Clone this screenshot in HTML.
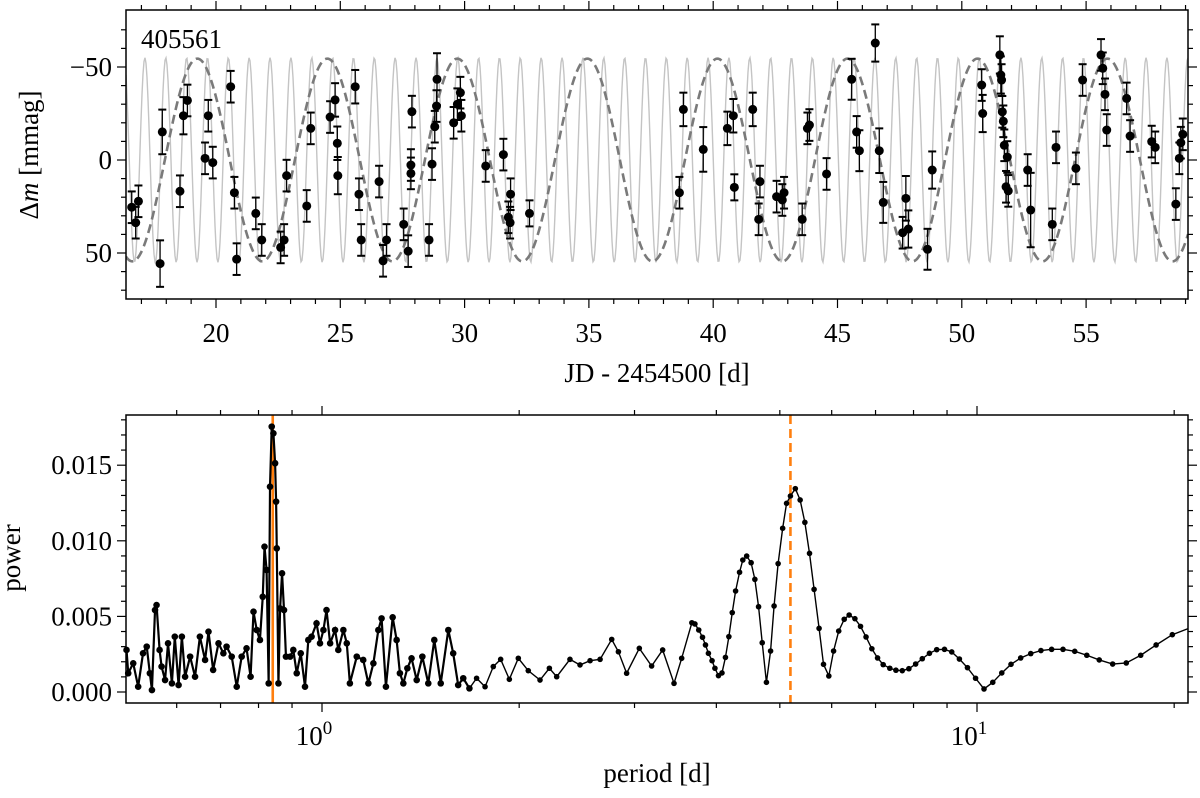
<!DOCTYPE html>
<html><head><meta charset="utf-8">
<style>
html,body{margin:0;padding:0;background:#fff;}
svg{display:block;font-family:"Liberation Serif","DejaVu Serif",serif;}
</style></head>
<body>
<svg id="chart" width="1200" height="798" viewBox="0 0 1200 798" xmlns="http://www.w3.org/2000/svg">
  <rect width="1200" height="798" fill="#fff"/>
  <g id="topPanel"></g>
  <g id="botPanel"></g>
</svg>
<script>
// ---------- Light-curve data ----------
const obsDay = [16.61,16.77,16.88,17.75,17.84,18.55,18.69,18.85,19.56,19.69,19.87,20.59,20.74,20.83,21.6,21.84,22.6,22.74,22.84,23.65,23.81,24.59,24.79,24.88,24.9,25.6,25.75,25.84,26.56,26.72,26.86,27.55,27.73,27.88,27.84,27.84,28.57,28.69,28.8,28.87,28.89,29.56,29.71,29.83,29.87,
30.85,31.56,31.85,31.76,31.83,32.61,38.64,38.8,39.6,40.57,40.81,40.85,41.59,41.88,41.83,42.55,42.78,42.85,43.58,43.79,43.87,44.56,
45.57,45.77,45.88,46.52,46.68,46.84,47.62,47.75,47.85,48.62,48.81,50.8,50.84,51.53,51.57,51.6,51.63,51.67,51.71,51.83,51.78,51.87,52.65,52.77,53.64,53.79,54.59,54.86,55.6,55.67,55.76,55.83,56.63,56.77,57.64,57.78,58.61,58.75,58.81,58.89];
const obsMag = [25.4,33.7,22.2,55.7,-15.1,16.8,-23.8,-32,-0.9,-23.8,1.4,-39.4,17.6,53.3,28.7,43,47,43,8.4,24.7,-17,-23.1,-32.3,-9,8.4,-39.4,18.4,43,11.6,54.2,43,34.6,49,-26,2.7,7.2,43,2.2,-17.9,-29,-43.4,-20,-30,-36.2,-23.8,
3.2,-2.9,18.4,30.8,33.7,28.7,17.6,-27.2,-5.7,-17,-23.8,14.7,-27.2,11.6,31.9,19.7,21.5,17.6,31.9,-17,-18.8,7.5,
-43.4,-15.1,-5,-62.9,-5,22.8,39.1,20.6,37.1,48,5.4,-40.3,-25,-56.5,-45.7,-43,-25.9,-20.8,-7.9,-1.6,14.4,16.6,5.4,26.9,34.6,-6.8,4.5,-43,-56.5,-49.3,-35.3,-16.1,-33.1,-12.9,-9.9,-6.8,23.7,-0.9,-9.3,-13.8];
const obsErr = [8.5,8.5,8.5,12.5,12,8.5,10,8.5,8.5,8.5,8.5,8.5,8.5,8.5,8.5,8.5,8.5,8.5,8.5,8.5,8.5,8.5,9,9,10,9,8.5,8.5,8.5,8.5,8.5,8.5,8.5,8.5,8.5,8.5,8.5,8.5,8.5,8.5,14,8.5,8.5,8.5,8.5,
8.5,8.5,8.5,8.5,8.5,7,8.5,9,12,9,9,7,9,8.5,8.5,8.5,8.5,8.5,8.5,8.5,8.5,8.5,
11,8.5,11,10,12,11,8.5,12,10,11,10,8.5,10,10,10,8.5,8.5,8.5,8.5,8.5,8.5,8.5,8.5,20,8.5,8.5,8.5,8.5,8.5,8.5,8.5,8.5,8.5,8.5,8.5,8.5,8.5,8.5,8.5,8.5];
const xTicksTop = [20,25,30,35,40,45,50,55];
const yTicksTop = [-50,0,50];
const yTickLabelsTop = ["\u221250","0","50"];
const fastPeriod = 0.839, fastT0 = 17.14, fastAmp = 55;
const slowPeriod = 5.23, slowT0 = 19.25, slowAmp = 54.5;

// ---------- Periodogram data ----------
const period = [0.503,0.506,0.515,0.524,0.533,0.540,0.546,0.550,0.556,0.559,0.565,0.569,0.576,0.582,0.590,0.596,0.604,0.611,0.618,0.629,0.640,0.651,0.663,0.671,0.682,0.695,0.707,0.715,0.728,0.741,0.754,0.767,0.778,0.786,0.795,0.804,0.812,0.817,0.823,0.829,0.833,0.838,0.843,0.848,0.851,0.853,0.858,0.863,0.869,0.875,0.881,0.894,0.904,0.915,0.928,0.942,0.953,0.964,0.981,0.993,1.005,1.016,1.029,1.047,1.059,1.078,1.091,1.103,1.130,1.156,1.177,1.198,1.219,
1.233,1.252,1.282,1.300,1.315,1.331,1.350,1.370,1.395,1.423,1.453,1.484,1.518,1.559,1.586,1.614,1.643,1.679,1.722,1.774,1.826,1.874,1.932,1.994,2.065,2.152,2.224,2.282,2.391,2.477,2.566,2.658,2.769,2.835,2.918,3.051,3.186,3.312,3.447,3.541,
3.67,3.71,3.76,3.81,3.85,3.89,3.94,3.98,4.03,4.08,4.13,4.18,4.23,4.28,4.34,4.39,4.45,4.52,4.58,4.64,4.70,4.77,4.84,4.90,4.97,5.05,5.12,5.19,5.28,5.37,5.46,5.55,5.64,5.74,5.83,5.94,6.04,6.15,6.27,6.38,6.51,6.64,6.77,6.91,7.05,7.19,7.36,7.52,7.69,7.87,8.06,8.25,8.46,8.68,8.92,9.15,9.40,9.67,9.95,10.25,10.57,10.91,11.27,11.66,12.08,12.52,13.00,13.53,14.10,14.71,15.37,16.11,16.90,17.78,18.77,19.87];
const power = [0.00278,0.00124,0.00190,0.00035,0.00256,0.00300,0.00124,0.00013,0.00542,0.00575,0.00278,0.00168,0.00079,0.00322,0.00057,0.00366,0.00046,0.00366,0.00101,0.00234,0.00101,0.00366,0.00212,0.00399,0.00146,0.00322,0.00256,0.00300,0.00234,0.00035,0.00234,0.00289,0.00101,0.00531,0.00410,0.00344,0.00630,0.00961,0.00807,0.00057,0.01358,0.01755,0.01711,0.01513,0.01259,0.00950,0.00057,0.00553,0.00785,0.00542,0.00234,0.00234,0.00278,0.00124,0.00256,0.00035,0.00344,0.00366,0.00454,0.00322,0.00410,0.00542,0.00322,0.00410,0.00278,0.00410,0.00322,0.00057,0.00234,0.00212,0.00057,0.00190,0.00410,
0.00487,0.00035,0.00494,0.00344,0.00124,0.00057,0.00157,0.00223,0.00079,0.00234,0.00057,0.00344,0.00057,0.00410,0.00256,0.00046,0.00091,0.00024,0.00091,0.00035,0.00168,0.00216,0.00084,0.00223,0.00141,0.00079,0.00157,0.00101,0.00216,0.00179,0.00207,0.00216,0.00348,0.00266,0.00124,0.00289,0.00172,0.00278,0.00057,0.00223,
0.00458,0.00450,0.00410,0.00362,0.00311,0.00256,0.00207,0.00157,0.00108,0.00126,0.00229,0.00366,0.00525,0.00668,0.00792,0.00873,0.00899,0.00855,0.00745,0.00564,0.00326,0.00064,0.00271,0.00569,0.00849,0.01083,0.01248,0.01296,0.01345,0.01270,0.01122,0.00917,0.00679,0.00421,0.00183,0.00106,0.00271,0.00403,0.00481,0.00509,0.00485,0.00434,0.00364,0.00286,0.00225,0.00181,0.00157,0.00144,0.00141,0.00154,0.00185,0.00220,0.00256,0.00280,0.00282,0.00265,0.00218,0.00161,0.00091,0.00020,0.00064,0.00126,0.00183,0.00225,0.00254,0.00274,0.00282,0.00282,0.00269,0.00243,0.00212,0.00185,0.00192,0.00243,0.00311,0.00379];
const lineEndPeriod = 21.0, lineEndPower = 0.00419;
const yTicksBot = [0,0.005,0.010,0.015];
const yTickLabelsBot = ["0.000","0.005","0.010","0.015"];
const markedPeriods = [0.841, 5.19];

const NS = "http://www.w3.org/2000/svg";
function mk(tag, attrs, parent){ const e=document.createElementNS(NS,tag); for(const k in attrs) e.setAttribute(k,attrs[k]); parent.appendChild(e); return e; }

// ===== Top panel =====
const topG = document.getElementById('topPanel');
const TX0=126, TX1=1188, TY0=10, TY1=299;
const xT = d => 216 + (d-20)*24.86;
const yT = v => 160 + v*1.86;
const clip = mk('clipPath',{id:'clipTop'},topG);
mk('rect',{x:TX0,y:TY0,width:TX1-TX0,height:TY1-TY0},clip);
function modelPath(P,t0,A){ let s=''; for(let px=TX0; px<=TX1; px+=1){ const d=20+(px-216)/24.86; const v=-A*Math.cos(2*Math.PI*(d-t0)/P); s+=(s?'L':'M')+px+','+yT(v).toFixed(2);} return s; }
const fast = mk('path',{d:modelPath(fastPeriod,fastT0,fastAmp),fill:'none',stroke:'#c4c4c4','stroke-width':1.4,'clip-path':'url(#clipTop)'},topG);


const slow = mk('path',{d:modelPath(slowPeriod,slowT0,slowAmp),fill:'none',stroke:'#7a7a7a','stroke-width':2.6,'stroke-dasharray':'9,5','clip-path':'url(#clipTop)'},topG);


for(let i=0;i<obsDay.length;i++){
  const x=xT(obsDay[i]), y=yT(obsMag[i]), e=obsErr[i]*1.86;
  const g=mk('g',{},topG);
  
  
  mk('line',{x1:x,y1:y-e,x2:x,y2:y+e,stroke:'#000','stroke-width':1.3},g);
  mk('line',{x1:x-4,y1:y-e,x2:x+4,y2:y-e,stroke:'#000','stroke-width':2},g);
  mk('line',{x1:x-4,y1:y+e,x2:x+4,y2:y+e,stroke:'#000','stroke-width':2},g);
  mk('circle',{cx:x,cy:y,r:4.5,fill:'#000'},g);
}
const frameT = mk('rect',{x:TX0,y:TY0,width:TX1-TX0,height:TY1-TY0,fill:'none',stroke:'#000','stroke-width':1.5},topG);


for(let d=17; d<=59; d++){
  const x=xT(d); const major = xTicksTop.includes(d); const L = major?9:5;
  mk('line',{x1:x,y1:TY1,x2:x,y2:TY1+L,stroke:'#000','stroke-width':1.2},topG);
  mk('line',{x1:x,y1:TY0,x2:x,y2:TY0-L,stroke:'#000','stroke-width':1.2},topG);
}
xTicksTop.forEach(d=>{
  const t=mk('text',{x:xT(d),y:342,'text-anchor':'middle','font-size':27},topG); t.textContent=d;
  
  
});
for(let v=-70; v<=70; v+=10){
  const y=yT(v); const major = (v%50===0); const L=major?9:5;
  mk('line',{x1:TX0,y1:y,x2:TX0-L,y2:y,stroke:'#000','stroke-width':1.2},topG);
  mk('line',{x1:TX1,y1:y,x2:TX1+L,y2:y,stroke:'#000','stroke-width':1.2},topG);
}
yTicksTop.forEach((v,i)=>{
  const t=mk('text',{x:112,y:yT(v)+9,'text-anchor':'end','font-size':27},topG); t.textContent=yTickLabelsTop[i];
  
  
});
const star = mk('text',{x:141,y:48,'font-size':27},topG); star.textContent='405561';


const xtT = mk('text',{x:657,y:382,'text-anchor':'middle','font-size':27},topG); xtT.textContent='JD - 2454500 [d]';


const ytT = mk('text',{x:0,y:0,'text-anchor':'middle','font-size':27,transform:'translate(38,155) rotate(-90)'},topG);
ytT.innerHTML='\u0394<tspan font-style="italic">m</tspan> [mmag]';



// ===== Bottom panel =====
const botG = document.getElementById('botPanel');
const BX0=126, BX1=1188, BY0=415, BY1=703;
const xB = p => 322 + 655*Math.log10(p);
const yB = w => 692 - w*15120;
markedPeriods.forEach((p,i)=>{
  const l=mk('line',{x1:xB(p),y1:BY0,x2:xB(p),y2:BY1,stroke:'#ff7f0e','stroke-width':2.6},botG);
  if(i===1) l.setAttribute('stroke-dasharray','9,5');
  
  
});
let pd='', pdDense='';
for(let i=0;i<period.length;i++){
  const seg=(i?'L':'M')+xB(period[i]).toFixed(2)+','+yB(power[i]).toFixed(2);
  pd+=seg;
  if(period[i]<1.7) pdDense+=seg;
}
pd+='L'+xB(lineEndPeriod).toFixed(2)+','+yB(lineEndPower).toFixed(2);
const pl = mk('path',{d:pd,fill:'none',stroke:'#000','stroke-width':1.4},botG);


const pl2 = mk('path',{d:pdDense,fill:'none',stroke:'#000','stroke-width':2.2},botG);


for(let i=0;i<period.length;i++){
  const c=mk('circle',{cx:xB(period[i]),cy:yB(power[i]),r:period[i]<1.7?3.3:2.8,fill:'#000'},botG);
  
  
}
const frameB = mk('rect',{x:BX0,y:BY0,width:BX1-BX0,height:BY1-BY0,fill:'none',stroke:'#000','stroke-width':1.5},botG);


for(let dec=-1; dec<=1; dec++){
  for(let m=1;m<=9;m++){
    const p=m*Math.pow(10,dec); const x=xB(p);
    if(x<BX0-0.5||x>BX1+0.5) continue;
    const L = m===1?9:5;
    mk('line',{x1:x,y1:BY1,x2:x,y2:BY1+L,stroke:'#000','stroke-width':1.2},botG);
    mk('line',{x1:x,y1:BY0,x2:x,y2:BY0-L,stroke:'#000','stroke-width':1.2},botG);
  }
}
[[1,'0'],[10,'1']].forEach(([p,e])=>{
  const t=mk('text',{x:xB(p)-8,y:745,'text-anchor':'middle','font-size':27},botG);
  t.innerHTML='10<tspan font-size="19" dy="-11">'+e+'</tspan>';
  
  
});
for(let k=0;k<=18;k++){
  const w=k*0.001; const y=yB(w); if(y<BY0) continue; const L=(k%5===0)?9:5;
  mk('line',{x1:BX0,y1:y,x2:BX0-L,y2:y,stroke:'#000','stroke-width':1.2},botG);
  mk('line',{x1:BX1,y1:y,x2:BX1+L,y2:y,stroke:'#000','stroke-width':1.2},botG);
}
yTicksBot.forEach((w,i)=>{
  const t=mk('text',{x:112,y:yB(w)+9,'text-anchor':'end','font-size':27},botG); t.textContent=yTickLabelsBot[i];
  
  
});
const xtB = mk('text',{x:657,y:782,'text-anchor':'middle','font-size':27},botG); xtB.textContent='period [d]';


const ytB = mk('text',{x:0,y:0,'text-anchor':'middle','font-size':27,transform:'translate(20,558) rotate(-90)'},botG); ytB.textContent='power';


</script>
</body></html>
